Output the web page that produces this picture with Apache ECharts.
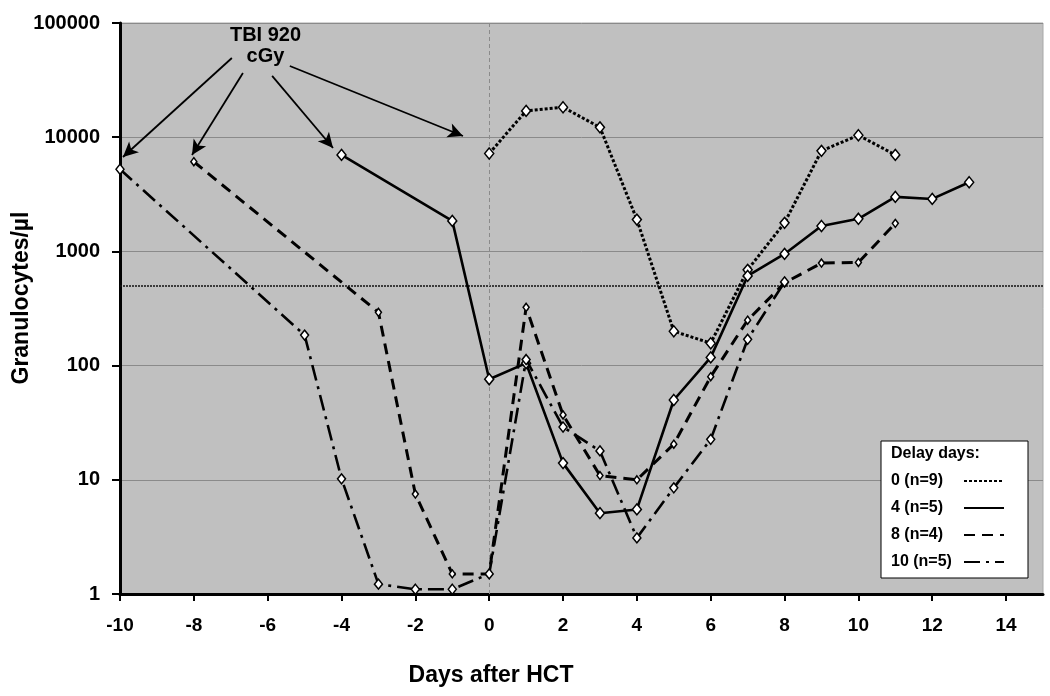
<!DOCTYPE html>
<html>
<head>
<meta charset="utf-8">
<script src="https://cdn.jsdelivr.net/npm/echarts@6/dist/echarts.min.js"></script>
<style>
html,body{margin:0;padding:0;background:#fff;}
#chart{width:1050px;height:696px;}
</style>
</head>
<body>
<div id="chart"></div>
<script>
// ---- data ----
const seriesNames = ['0 (n=9)', '4 (n=5)', '8 (n=4)', '10 (n=5)'];
const days0 = [0, 1, 2, 3, 4, 5, 6, 7, 8, 9, 10, 11];
const gran0 = [7200, 17000, 18300, 12200, 1900, 200, 157, 690, 1780, 7600, 10400, 7000];
const days4 = [-4, -1, 0, 1, 2, 3, 4, 5, 6, 7, 8, 9, 10, 11, 12, 13];
const gran4 = [7000, 1850, 76, 105, 14, 5.1, 5.5, 50, 118, 610, 950, 1670, 1930, 3000, 2880, 4030];
const days8 = [-8, -3, -2, -1, 0, 1, 2, 3, 4, 5, 6, 7, 8, 9, 10, 11];
const gran8 = [6100, 293, 7.5, 1.5, 1.5, 324, 37, 10.9, 10, 20.5, 80, 250, 530, 790, 800, 1760];
const days10 = [-10, -5, -4, -3, -2, -1, 0, 1, 2, 3, 4, 5, 6, 7, 8];
const gran10 = [5240, 185, 10.2, 1.22, 1.1, 1.1, 1.5, 113, 29, 17.9, 3.1, 8.5, 22.6, 170, 540];
const yTicks = [1, 10, 100, 1000, 10000, 100000];
const xTicks = [-10, -8, -6, -4, -2, 0, 2, 4, 6, 8, 10, 12, 14];
const threshold = 500;
const hctDay = 0;
// annotation arrows: [day, value] of start and end
const arrowsFrom = [[-6.97, 49400], [-6.67, 36500], [-5.88, 34400], [-5.40, 42000]];
const arrowsTo = [[-9.92, 6710], [-8.05, 6980], [-4.23, 8040], [-0.71, 10240]];

const FONT = '"Liberation Sans", Arial, Helvetica, sans-serif';
const pairs = (xs, ys) => xs.map((x, i) => [x, ys[i]]);

const chart = echarts.init(document.getElementById('chart'), null, {renderer: 'canvas'});

const arrowData = arrowsFrom.map((s, i) => [
  {coord: s, symbol: 'none', lineStyle: {color: '#000', width: 1.8, type: 'solid'}},
  {coord: arrowsTo[i], symbol: 'arrow', symbolSize: [11, 15]}
]);

const lineStyles = [
  {color: '#000', width: 3, type: [3, 2]},
  {color: '#000', width: 2.6, type: 'solid'},
  {color: '#000', width: 3, type: [11, 7]},
  {color: '#000', width: 2.6, type: [16, 6, 3, 6]}
];
const symSizes = [[9, 11], [9, 11], [6, 8], [8, 10]];
const allData = [pairs(days0, gran0), pairs(days4, gran4), pairs(days8, gran8), pairs(days10, gran10)];

const series = seriesNames.map((name, i) => ({
  name: name,
  type: 'line',
  data: allData[i],
  symbol: 'diamond',
  symbolSize: symSizes[i],
  showAllSymbol: true,
  lineStyle: lineStyles[i],
  itemStyle: {color: '#fff', borderColor: '#000', borderWidth: 1.5},
  z: 5 + i,
  animation: false
}));

series[0].markLine = {
  silent: true,
  animation: false,
  symbol: 'none',
  label: {show: false},
  data: [
    {yAxis: threshold, lineStyle: {color: '#111', width: 1.5, type: [2, 1]}},
    {xAxis: hctDay, lineStyle: {color: '#8a8a8a', width: 1, type: [4, 3]}}
  ].concat(arrowData)
};

const option = {
  animation: false,
  backgroundColor: '#fff',
  textStyle: {fontFamily: FONT},
  grid: {
    left: 120, right: 7, top: 23, bottom: 102,
    show: true, backgroundColor: '#c0c0c0', borderColor: '#a8a8a8', borderWidth: 1
  },
  xAxis: {
    type: 'value',
    min: -10, max: 15, interval: 2,
    axisLine: {onZero: false, lineStyle: {color: '#000', width: 3}},
    axisTick: {show: true, length: 7, lineStyle: {color: '#000', width: 2}},
    axisLabel: {
      margin: 22, fontSize: 19, fontWeight: 'bold', color: '#000', fontFamily: FONT,
      showMaxLabel: false,
      formatter: v => (xTicks.indexOf(v) >= 0 ? String(v) : '')
    },
    splitLine: {show: false}
  },
  yAxis: {
    type: 'log', logBase: 10, min: 1, max: 100000,
    axisLine: {show: true, onZero: false, lineStyle: {color: '#000', width: 3}},
    axisTick: {show: true, length: 8, lineStyle: {color: '#000', width: 2}},
    axisLabel: {
      margin: 20, fontSize: 20, fontWeight: 'bold', color: '#000', fontFamily: FONT,
      formatter: v => {
        const r = Math.round(v);
        return yTicks.indexOf(r) >= 0 ? String(r) : '';
      }
    },
    splitLine: {show: true, lineStyle: {color: '#8a8a8a', width: 1}}
  },
  legend: {
    data: seriesNames,
    orient: 'vertical',
    left: 881, top: 441,
    padding: [32, 23, 8, 10],
    itemGap: 11,
    itemWidth: 40, itemHeight: 14,
    align: 'right',
    backgroundColor: '#fff',
    borderColor: '#000', borderWidth: 1, borderRadius: 0,
    selectedMode: false,
    itemStyle: {opacity: 0},
    formatter: name => '{a|' + name + '}',
    textStyle: {
      fontSize: 16, fontWeight: 'bold', color: '#000', fontFamily: FONT, lineHeight: 14,
      rich: {a: {width: 68, align: 'left', fontSize: 16, fontWeight: 'bold', fontFamily: FONT, lineHeight: 14, color: '#000'}}
    }
  },
  graphic: [
    {type: 'text', x: 265.5, y: 46, z: 100,
     style: {text: 'TBI 920\ncGy', font: 'bold 20px ' + FONT, fill: '#000', align: 'center', verticalAlign: 'middle', lineHeight: 21}},
    {type: 'text', x: 491, y: 676, z: 100,
     style: {text: 'Days after HCT', font: 'bold 23px ' + FONT, fill: '#000', align: 'center', verticalAlign: 'middle'}},
    {type: 'text', x: 22, y: 298, z: 100, rotation: Math.PI / 2,
     style: {text: 'Granulocytes/µl', font: 'bold 23px ' + FONT, fill: '#000', align: 'center', verticalAlign: 'middle'}},
    {type: 'text', x: 891, y: 454, z: 100,
     style: {text: 'Delay days:', font: 'bold 16px ' + FONT, fill: '#000', align: 'left', verticalAlign: 'middle'}}
  ],
  series: series
};
chart.setOption(option);
</script>
</body>
</html>
